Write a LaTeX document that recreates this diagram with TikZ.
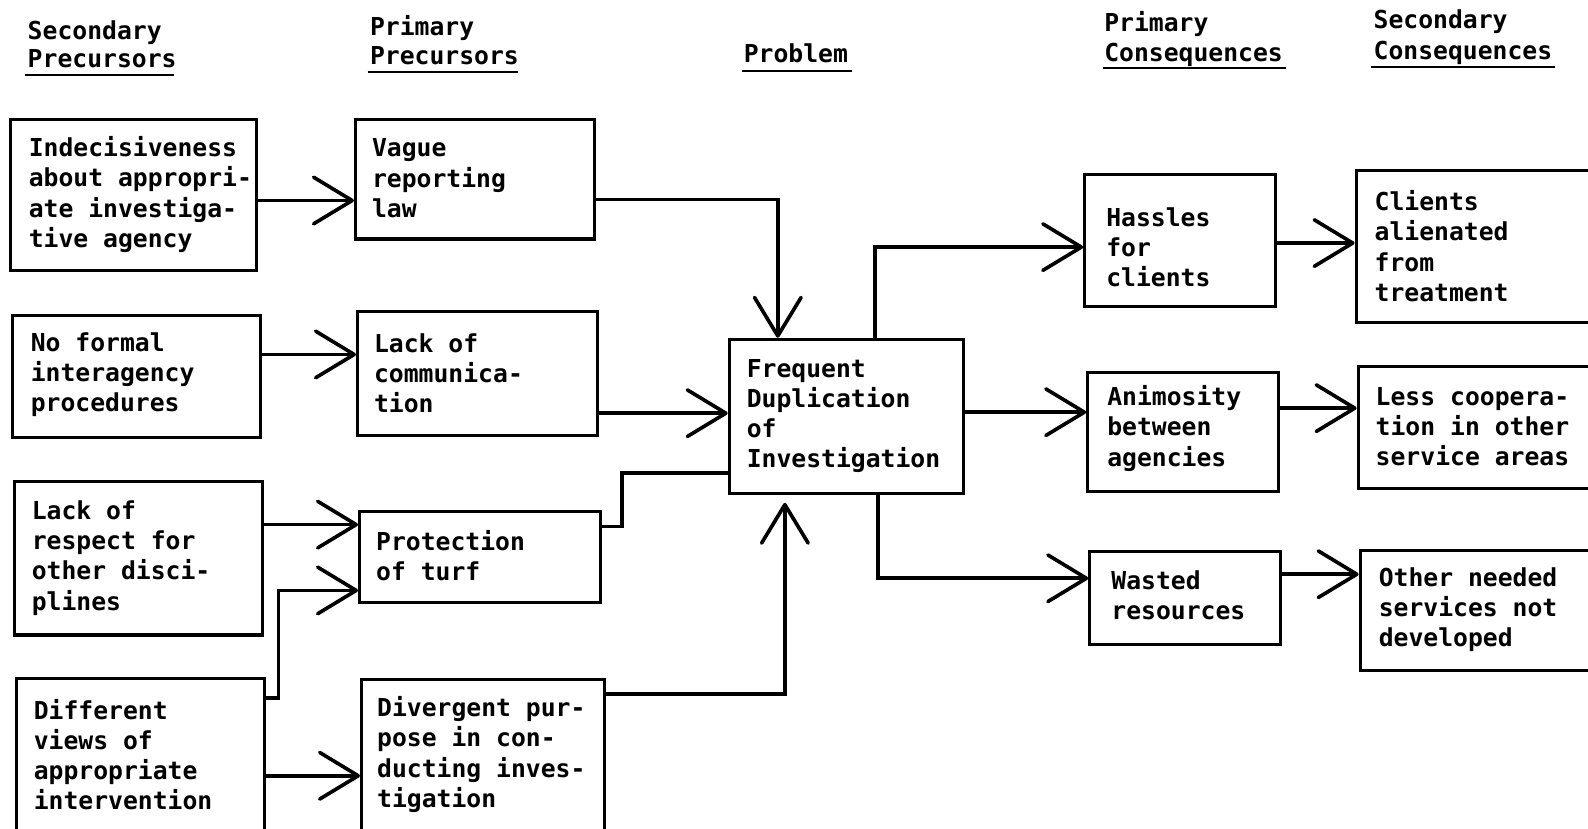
\documentclass[tikz,border=0pt]{standalone}
\usepackage{fontspec}
\newfontfamily\typew{DejaVu Sans Mono}
\usetikzlibrary{arrows.meta}
\begin{document}
\begin{tikzpicture}[x=0.5pt,y=-0.5pt,
  box/.style={draw, line width=1.5pt, inner sep=0pt, rectangle},
  txt/.style={anchor=west, align=left, inner sep=0pt, font={\typew\bfseries\fontsize{12.2}{14.9}\selectfont}},
  hd/.style={anchor=base west, inner sep=0pt, font={\typew\bfseries\fontsize{12.2}{14.9}\selectfont}},
  conn/.style={line width=1.8pt},
  arr/.style={conn, -{Straight Barb[length=19pt,width=23pt,round]}},
  uline/.style={line width=1.3pt}]
\useasboundingbox (0,0) rectangle (1568,818);
\fill[white] (0,0) rectangle (1568,818);
\clip (0,0) rectangle (1568,818);

% headers
\node[hd] (h1a) at (27,39.5) {Secondary};
\node[hd] (h1b) at (27,67) {Precursors};
\draw[uline] (25,74) -- (172,74);
\node[hd] (h2a) at (365,35) {Primary};
\node[hd] (h2b) at (365,64) {Precursors};
\draw[uline] (363,71) -- (511,71);
\node[hd] (h3) at (734,62) {Problem};
\draw[uline] (733,70) -- (841,70);
\node[hd] (h4a) at (1090,31) {Primary};
\node[hd] (h4b) at (1090,61) {Consequences};
\draw[uline] (1089,67) -- (1270,67);
\node[hd] (h5a) at (1356,28) {Secondary};
\node[hd] (h5b) at (1356,59) {Consequences};
\draw[uline] (1354,66) -- (1535,66);

% boxes
\node[box, minimum width=121.5pt, minimum height=74.5pt] (A1) at (131.5,192.5) {};
\node[box, minimum width=122.5pt, minimum height=60pt] (A2) at (134.5,372) {};
\node[box, minimum width=122.5pt, minimum height=76pt] (A3) at (136.5,551) {};
\node[box, minimum width=122.5pt, minimum height=75pt] (A4) at (138.5,745) {};
\node[box, minimum width=118pt, minimum height=59pt] (B1) at (469,177) {};
\node[box, minimum width=118.5pt, minimum height=61pt] (B2) at (471.5,369) {};
\node[box, minimum width=119pt, minimum height=45pt] (B3) at (474,550) {};
\node[box, minimum width=120pt, minimum height=74.5pt] (B4) at (477,745.5) {};
\node[box, minimum width=115.5pt, minimum height=76pt] (C) at (835.5,411) {};
\node[box, minimum width=94pt, minimum height=65.5pt] (D1) at (1165,237.5) {};
\node[box, minimum width=94pt, minimum height=58.5pt] (D2) at (1168,426.5) {};
\node[box, minimum width=94pt, minimum height=45.5pt] (D3) at (1170,590.5) {};
\node[box, minimum width=125.5pt, minimum height=75pt] (E1) at (1464.5,243) {};
\node[box, minimum width=124.5pt, minimum height=60pt] (E2) at (1465.5,422) {};
\node[box, minimum width=123.5pt, minimum height=59pt] (E3) at (1466.5,603) {};

% texts
\node[txt] (A1t) at (28,192) {Indecisiveness\\about appropri-\\ate investiga-\\tive agency};
\node[txt] (A2t) at (30,370) {No formal\\interagency\\procedures};
\node[txt] (A3t) at (31,551) {Lack of\\respect for\\other disci-\\plines};
\node[txt] (A4t) at (33,745) {Different\\views of\\appropriate\\intervention};
\node[txt] (B1t) at (367,176) {Vague\\reporting\\law};
\node[txt] (B2t) at (369,368.5) {Lack of\\communica-\\tion};
\node[txt] (B3t) at (371,549) {Protection\\of turf};
\node[txt] (B4t) at (372,745) {Divergent pur-\\pose in con-\\ducting inves-\\tigation};
\node[txt] (Ct) at (737,411) {Frequent\\Duplication\\of\\Investigation};
\node[txt] (D1t) at (1092,244) {Hassles\\for\\clients};
\node[txt] (D2t) at (1093,423) {Animosity\\between\\agencies};
\node[txt] (D3t) at (1097,588) {Wasted\\resources};
\node[txt] (E1t) at (1357,243) {Clients\\alienated\\from\\treatment};
\node[txt] (E2t) at (1358,421.5) {Less coopera-\\tion in other\\service areas};
\node[txt] (E3t) at (1361,602) {Other needed\\services not\\developed};

% connectors
\draw[arr] (A1.east|-0,198) -- (B1.west|-0,198);
\draw[arr] (A2.east|-0,350) -- (B2.west|-0,350);
\draw[arr] (A3.east|-0,518) -- (B3.west|-0,518);
\draw[arr] (A4.east|-0,689) -- (275,689) -- (275,583) -- (B3.west|-0,583);
\draw[arr] (A4.east|-0,766) -- (B4.west|-0,766);
\draw[arr] (B1.east|-0,197) -| (C.north-|768,0);
\draw[arr] (B2.east|-0,408) -- (C.west|-0,408);
\draw[conn] (B3.east|-0,520) -- (614,520) -- (614,467) -- (C.west|-0,467);
\draw[arr, shorten >=4pt] (B4.east|-0,685) -| (C.south-|775,0);
\draw[arr] (C.north-|864,0) |- (D1.west|-0,244);
\draw[arr] (C.east|-0,407) -- (D2.west|-0,407);
\draw[arr] (C.south-|867,0) |- (D3.west|-0,571);
\draw[arr] (D1.east|-0,240) -- (E1.west|-0,240);
\draw[arr] (D2.east|-0,403) -- (E2.west|-0,403);
\draw[arr] (D3.east|-0,567) -- (E3.west|-0,567);
\end{tikzpicture}
\end{document}
